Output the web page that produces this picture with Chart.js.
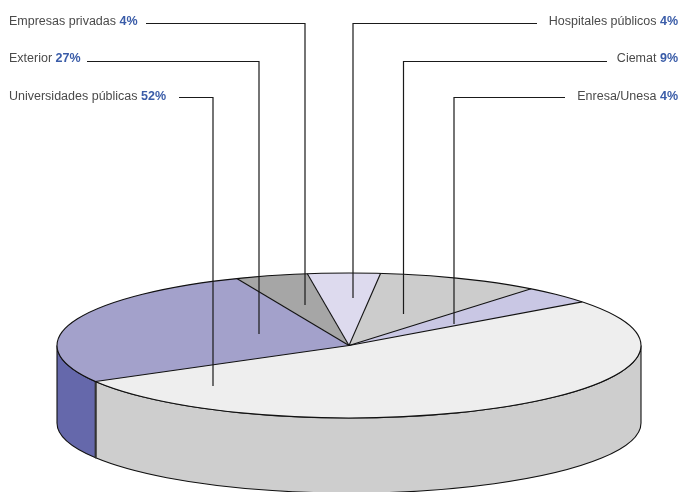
<!DOCTYPE html>
<html>
<head>
<meta charset="utf-8">
<style>
html,body{margin:0;padding:0;background:#fff;}
canvas{display:block;}
</style>
<script src="https://cdn.jsdelivr.net/npm/chart.js@4/dist/chart.umd.min.js"></script>
</head>
<body>
<canvas id="pie" width="680" height="492"></canvas>
<script>
const categories = ['Universidades públicas','Exterior','Empresas privadas','Hospitales públicos','Ciemat','Enresa/Unesa'];
const shares = [52,27,4,4,9,4];
const topColors = ['#eeeeee','#a3a1cb','#a6a6a6','#dddaee','#cccccc','#c9c7e4'];
const sideColors = ['#cecece','#6568ab','#808080','#a9a6cf','#a0a0a0','#9a98c8'];

// callout layout, same order as categories
const labelSide = ['left','left','left','right','right','right'];
const labelY = [100,62,25,25,62,100];
const lineY = [97.5,61.5,23.5,23.5,61.5,97.5];
const lineFromX = [179,87,146,537,607,565];
const lineX = [213,259,305,353,403.5,454];
const lineEndY = [386,334,305,298,314,324];

// projection of the flat pie on the page
const PIE = { cx:349, cy:345.5, rx:292, ry:72.5, depth:77.5, lowerRy:70 };
const FONT = '"Liberation Sans", Arial, sans-serif';

function toFlat(ctx, el){
  const r = el.outerRadius;
  ctx.translate(PIE.cx, PIE.cy);
  ctx.scale(PIE.rx/r, PIE.ry/r);
  ctx.translate(-el.x, -el.y);
}
function pt(a, drop){
  return { x: PIE.cx + PIE.rx*Math.cos(a), y: PIE.cy + PIE.ry*Math.sin(a) + (drop||0) };
}

const pie3d = {
  id:'pie3d',
  beforeDatasetsDraw(chart){
    const ctx = chart.ctx, arcs = chart.getDatasetMeta(0).data;
    // front wall, only the part between 0 and 180 degrees shows
    arcs.forEach((el,i)=>{
      for (const shift of [0, Math.PI*2]){
        const a1 = Math.max(el.startAngle-shift, 0), a2 = Math.min(el.endAngle-shift, Math.PI);
        if (a2 <= a1) continue;
        ctx.save();
        ctx.beginPath();
        ctx.ellipse(PIE.cx, PIE.cy, PIE.rx, PIE.ry, 0, a1, a2);
        ctx.ellipse(PIE.cx, PIE.cy+PIE.depth, PIE.rx, PIE.lowerRy, 0, a2, a1, true);
        ctx.closePath();
        ctx.fillStyle = sideColors[i];
        ctx.fill();
        ctx.strokeStyle = '#111';
        ctx.lineWidth = 1.1;
        ctx.stroke();
        ctx.restore();
      }
    });
    // seam between the two visible walls
    const seam = pt(arcs[0].endAngle);
    ctx.save();
    ctx.strokeStyle = '#333';
    ctx.lineWidth = 2;
    ctx.beginPath();
    ctx.moveTo(seam.x, seam.y);
    ctx.lineTo(seam.x, PIE.cy+PIE.depth+PIE.lowerRy*Math.sin(arcs[0].endAngle));
    ctx.stroke();
    ctx.restore();
    ctx.save();
    toFlat(ctx, arcs[0]);
  },
  afterDatasetsDraw(chart){
    const ctx = chart.ctx, arcs = chart.getDatasetMeta(0).data;
    ctx.restore();
    ctx.save();
    ctx.strokeStyle = '#111';
    ctx.lineWidth = 1.1;
    arcs.forEach(el=>{
      const p = pt(el.startAngle);
      ctx.beginPath();
      ctx.moveTo(PIE.cx, PIE.cy);
      ctx.lineTo(p.x, p.y);
      ctx.stroke();
    });
    ctx.beginPath();
    ctx.ellipse(PIE.cx, PIE.cy, PIE.rx, PIE.ry, 0, 0, Math.PI*2);
    ctx.stroke();

    // callouts
    ctx.strokeStyle = '#1a1a1a';
    ctx.lineWidth = 1.2;
    ctx.textBaseline = 'alphabetic';
    ctx.textAlign = 'left';
    categories.forEach((name,i)=>{
      ctx.beginPath();
      ctx.moveTo(lineFromX[i], lineY[i]);
      ctx.lineTo(lineX[i], lineY[i]);
      ctx.lineTo(lineX[i], lineEndY[i]);
      ctx.stroke();

      const head = name+' ', tail = shares[i]+'%';
      ctx.font = '12.5px '+FONT;
      const w1 = ctx.measureText(head).width;
      ctx.font = 'bold 12.5px '+FONT;
      const w2 = ctx.measureText(tail).width;
      const x = labelSide[i]==='left' ? 9 : 678-w1-w2;
      ctx.font = '12.5px '+FONT;
      ctx.fillStyle = '#4a4a4a';
      ctx.fillText(head, x, labelY[i]);
      ctx.font = 'bold 12.5px '+FONT;
      ctx.fillStyle = '#3a5ca8';
      ctx.fillText(tail, x+w1, labelY[i]);
    });
    ctx.restore();
  }
};

new Chart(document.getElementById('pie').getContext('2d'),{
  type:'pie',
  data:{ labels:categories, datasets:[{ data:shares, backgroundColor:topColors, borderWidth:0, clip:false }] },
  options:{
    responsive:false, animation:false, rotation:53,
    layout:{ padding:0 },
    plugins:{ legend:{ display:false }, tooltip:{ enabled:false } }
  },
  plugins:[pie3d]
});
</script>
</body>
</html>
